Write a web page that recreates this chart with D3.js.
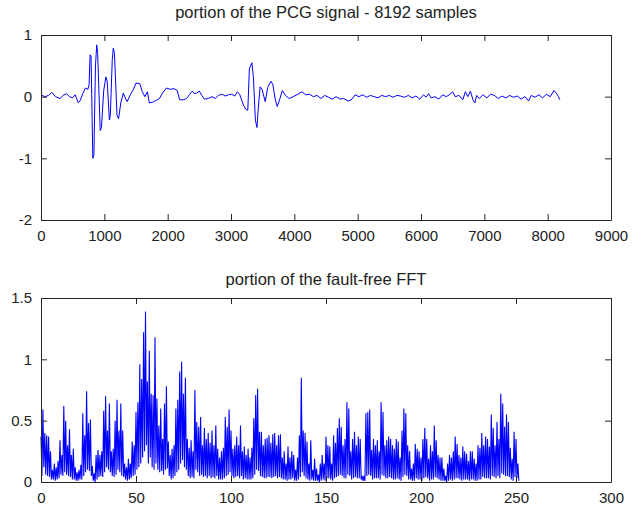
<!DOCTYPE html>
<html>
<head>
<meta charset="utf-8">
<script src="https://cdn.jsdelivr.net/npm/d3@7"></script>
<style>
body{margin:0;background:#fff;}
text{font-family:Arial,"Liberation Sans",sans-serif;fill:#222;}
</style>
</head>
<body>
<script>
// PCG signal breakpoints (sample index, amplitude)
const pcgX = [0,60,120,170,230,300,350,400,450,500,540,590,620,660,700,740,760,775,790,805,818,835,860,880,895,935,955,990,1025,1045,1080,1095,1125,1142,1160,1200,1225,1260,1300,1330,1360,1410,1460,1500,1560,1600,1640,1680,1710,1760,1820,1870,1920,1980,2040,2100,2150,2190,2250,2300,2350,2390,2420,2460,2500,2540,2580,2640,2700,2750,2800,2860,2910,2960,3010,3060,3100,3140,3190,3230,3265,3290,3330,3355,3385,3410,3430,3460,3490,3540,3580,3630,3660,3700,3730,3770,3810,3860,3920,3980,4040,4120,4180,4240,4300,4360,4420,4480,4540,4600,4660,4720,4780,4850,4900,4960,5020,5080,5140,5200,5260,5320,5380,5440,5500,5560,5620,5680,5740,5800,5860,5920,5980,6040,6080,6120,6160,6220,6280,6340,6400,6460,6500,6540,6600,6660,6700,6740,6780,6820,6850,6880,6920,6980,7040,7100,7160,7220,7280,7340,7400,7460,7520,7580,7640,7700,7740,7800,7860,7920,7980,8040,8100,8140,8170,8192];
const pcgY = [0.03,0.0,0.02,0.07,0.0,-0.03,0.02,0.05,0.0,-0.02,0.03,-0.1,-0.06,0.05,0.14,0.12,0.2,0.68,0.66,-0.2,-1.0,-0.95,0.5,0.84,0.7,-0.55,-0.5,0.1,0.32,0.25,-0.38,-0.3,0.6,0.79,0.7,-0.3,-0.36,-0.1,0.06,-0.02,-0.08,0.03,0.12,0.22,0.21,0.08,0.0,0.08,-0.1,-0.09,-0.06,-0.03,0.06,0.14,0.12,0.13,0.1,-0.05,-0.05,-0.03,0.04,0.09,0.05,0.06,0.09,0.02,-0.04,-0.03,0.0,-0.03,0.02,0.04,0.01,0.03,0.04,0.01,0.08,0.03,-0.12,-0.2,-0.22,0.45,0.55,0.3,-0.38,-0.5,-0.2,0.16,0.12,-0.08,0.15,0.25,0.2,-0.05,-0.16,-0.04,0.1,0.02,-0.03,0.0,0.03,0.08,0.03,0.04,0.0,0.02,-0.03,0.02,-0.01,-0.04,0.0,-0.04,-0.03,-0.07,-0.05,0.03,0.0,0.03,-0.01,0.02,0.0,-0.02,0.02,0.0,0.02,-0.01,0.02,0.01,-0.01,0.02,-0.02,0.01,-0.04,0.03,-0.01,0.05,-0.02,0.0,-0.04,0.03,0.0,0.04,0.08,0.0,0.02,-0.05,0.08,0.0,0.09,-0.05,-0.1,0.02,-0.03,0.03,-0.02,0.04,0.02,-0.03,0.01,-0.02,0.02,-0.01,0.01,-0.04,0.0,-0.07,0.02,-0.01,0.03,-0.02,0.04,0.0,0.1,0.05,0.0,-0.05];

// FFT magnitude: peak at each bin and the dip that follows it
const fftPeak = [0.37,0.59,0.4,0.38,0.37,0.25,0.1,0.15,0.12,0.17,
  0.34,0.22,0.62,0.5,0.3,0.43,0.22,0.27,0.12,0.08,
  0.1,0.14,0.56,0.38,0.74,0.48,0.51,0.13,0.07,0.22,
  0.26,0.22,0.25,0.58,0.7,0.42,0.64,0.25,0.27,0.5,
  0.67,0.42,0.64,0.42,0.15,0.12,0.19,0.15,0.33,0.3,
  0.57,0.65,0.96,0.84,1.22,1.39,0.82,1.07,0.72,0.71,
  1.18,0.68,0.46,0.6,0.35,0.64,0.78,0.33,0.22,0.27,
  0.3,0.6,0.67,0.9,0.98,0.72,0.85,0.35,0.28,0.34,
  0.25,0.75,0.49,0.45,0.53,0.3,0.44,0.35,0.4,0.32,
  0.42,0.3,0.46,0.27,0.2,0.25,0.28,0.53,0.45,0.59,
  0.42,0.27,0.3,0.37,0.3,0.46,0.25,0.29,0.22,0.27,
  0.2,0.28,0.52,0.71,0.76,0.41,0.41,0.3,0.35,0.36,
  0.38,0.32,0.39,0.4,0.3,0.38,0.39,0.2,0.25,0.15,
  0.29,0.2,0.25,0.22,0.1,0.2,0.38,0.85,0.42,0.4,
  0.33,0.15,0.34,0.1,0.19,0.11,0.06,0.15,0.22,0.15,
  0.37,0.3,0.29,0.15,0.38,0.32,0.44,0.52,0.45,0.3,
  0.35,0.65,0.6,0.25,0.35,0.41,0.3,0.37,0.35,0.05,
  0.05,0.56,0.57,0.59,0.26,0.35,0.3,0.34,0.25,0.65,
  0.57,0.3,0.34,0.37,0.35,0.3,0.27,0.35,0.33,0.2,
  0.42,0.6,0.56,0.3,0.25,0.11,0.15,0.31,0.27,0.25,
  0.2,0.35,0.44,0.35,0.19,0.3,0.25,0.46,0.34,0.22,
  0.2,0.2,0.11,0.05,0.15,0.22,0.2,0.25,0.37,0.31,
  0.22,0.2,0.29,0.25,0.23,0.17,0.25,0.25,0.19,0.15,
  0.3,0.28,0.4,0.3,0.37,0.35,0.29,0.55,0.44,0.3,
  0.49,0.35,0.72,0.64,0.45,0.55,0.49,0.28,0.19,0.41,
  0.35,0.15];
const fftDip = [0.05,0.12,0.06,0.05,0.04,0.02,0.02,0.01,0.02,0.03,
  0.06,0.05,0.08,0.06,0.05,0.04,0.02,0.02,0.01,0.01,
  0.02,0.02,0.05,0.08,0.1,0.09,0.05,0.01,0.0,0.02,
  0.04,0.05,0.04,0.08,0.12,0.1,0.08,0.05,0.04,0.06,
  0.1,0.08,0.05,0.04,0.02,0.01,0.02,0.03,0.05,0.06,
  0.1,0.12,0.15,0.2,0.25,0.3,0.15,0.2,0.12,0.1,
  0.15,0.1,0.08,0.09,0.06,0.1,0.11,0.05,0.02,0.03,
  0.05,0.08,0.1,0.15,0.18,0.12,0.1,0.05,0.03,0.04,
  0.03,0.1,0.08,0.05,0.06,0.04,0.05,0.03,0.05,0.03,
  0.04,0.03,0.05,0.02,0.02,0.02,0.03,0.05,0.06,0.08,
  0.05,0.03,0.04,0.05,0.03,0.05,0.02,0.03,0.02,0.02,
  0.02,0.03,0.06,0.1,0.09,0.05,0.04,0.03,0.03,0.04,
  0.04,0.03,0.04,0.05,0.03,0.04,0.03,0.02,0.02,0.01,
  0.02,0.02,0.03,0.01,0.01,0.02,0.04,0.08,0.05,0.03,
  0.02,0.01,0.02,0.01,0.01,0.01,0.0,0.01,0.02,0.01,
  0.03,0.03,0.02,0.01,0.03,0.04,0.05,0.06,0.05,0.03,
  0.03,0.06,0.05,0.02,0.03,0.04,0.03,0.03,0.02,0.01,
  0.01,0.05,0.06,0.05,0.02,0.03,0.03,0.03,0.02,0.06,
  0.05,0.03,0.03,0.04,0.03,0.02,0.02,0.03,0.02,0.01,
  0.04,0.06,0.05,0.02,0.02,0.01,0.01,0.03,0.02,0.02,
  0.01,0.03,0.04,0.03,0.01,0.02,0.02,0.04,0.03,0.02,
  0.01,0.01,0.01,0.0,0.01,0.02,0.01,0.02,0.03,0.03,
  0.02,0.01,0.02,0.02,0.02,0.01,0.02,0.02,0.01,0.01,
  0.02,0.02,0.04,0.03,0.03,0.03,0.02,0.05,0.04,0.03,
  0.05,0.03,0.07,0.06,0.05,0.05,0.04,0.02,0.01,0.04,
  0.03,0.01];

const titles = ["portion of the PCG signal - 8192 samples","portion of the fault-free FFT"];
const pcgXTicks = [0,1000,2000,3000,4000,5000,6000,7000,8000,9000];
const pcgYTicks = [-2,-1,0,1];
const fftXTicks = [0,50,100,150,200,250,300];
const fftYTicks = [0,0.5,1,1.5];

const w = 643, h = 507;
const left = 41, right = 611;
const tickLen = 6;

const svg = d3.select("body").append("svg")
  .attr("width", w).attr("height", h);

function panel(top, bottom, xDom, yDom, xTicks, yTicks, title, titleY, lineW, pts) {
  const x = d3.scaleLinear().domain(xDom).range([left, right]);
  const y = d3.scaleLinear().domain(yDom).range([bottom, top]);
  const g = svg.append("g");

  const line = d3.line().x(d => x(d[0])).y(d => y(d[1]));
  g.append("path")
    .datum(pts)
    .attr("d", line)
    .attr("fill", "none")
    .attr("stroke", "#0000ff")
    .attr("stroke-width", lineW);

  // axes, ticks pointing inward on all four sides
  const fmt = d => String(d);
  const axB = g.append("g").attr("transform", "translate(0," + bottom + ")")
    .call(d3.axisBottom(x).tickValues(xTicks).tickFormat(fmt).tickSizeInner(-tickLen).tickSizeOuter(0).tickPadding(10));
  const axT = g.append("g").attr("transform", "translate(0," + top + ")")
    .call(d3.axisTop(x).tickValues(xTicks).tickFormat("").tickSizeInner(-tickLen).tickSizeOuter(0));
  const axL = g.append("g").attr("transform", "translate(" + left + ",0)")
    .call(d3.axisLeft(y).tickValues(yTicks).tickFormat(fmt).tickSizeInner(-tickLen).tickSizeOuter(0).tickPadding(9));
  const axR = g.append("g").attr("transform", "translate(" + right + ",0)")
    .call(d3.axisRight(y).tickValues(yTicks).tickFormat("").tickSizeInner(-tickLen).tickSizeOuter(0));

  [axB, axT, axL, axR].forEach(a => {
    a.select(".domain").attr("stroke", "#262626");
    a.selectAll(".tick line").attr("stroke", "#262626");
    a.selectAll("text").style("font-size", "15px").style("font-family", "Arial, 'Liberation Sans', sans-serif").attr("fill", "#262626");
  });

  g.append("text")
    .attr("x", (left + right) / 2)
    .attr("y", titleY)
    .attr("text-anchor", "middle")
    .style("font-size", "16.5px")
    .text(title);
}

panel(35, 220, [0, 9000], [-2, 1], pcgXTicks, pcgYTicks, titles[0], 18, 1,
  pcgX.map((v, i) => [v, pcgY[i]]));

const fftPts = [];
fftPeak.forEach((p, i) => {
  fftPts.push([i, p]);
  fftPts.push([i + 0.5, fftDip[i]]);
});
panel(298, 482, [0, 300], [0, 1.5], fftXTicks, fftYTicks, titles[1], 285, 1.1, fftPts);
</script>
</body>
</html>
